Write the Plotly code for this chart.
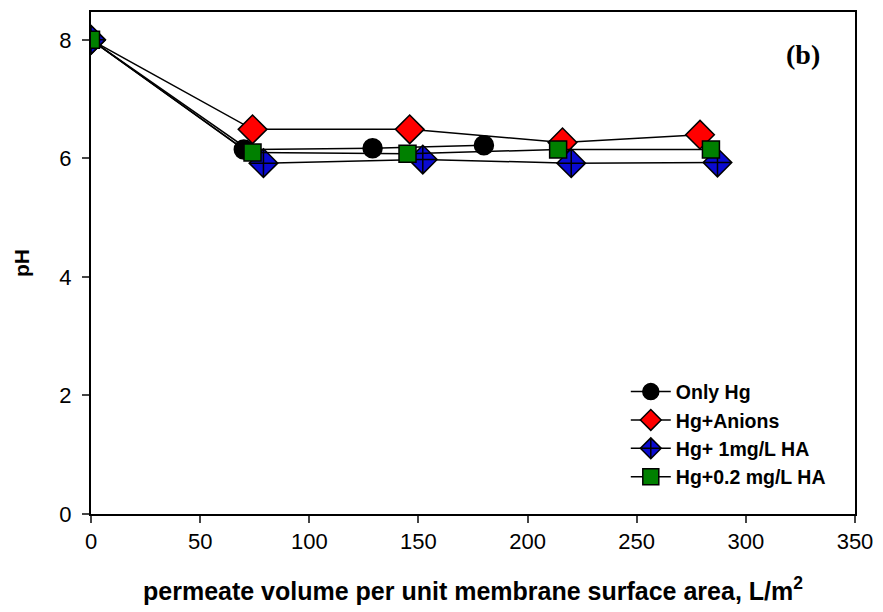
import plotly.graph_objects as go

# pH of permeate vs. permeate volume per unit membrane area
only_hg_x = [0, 70, 129, 180]
only_hg_y = [8.0, 6.15, 6.17, 6.22]

anions_x = [0, 74, 146, 216, 279]
anions_y = [8.0, 6.49, 6.49, 6.27, 6.40]

ha1_x = [0, 79, 152, 220, 287]
ha1_y = [8.0, 5.92, 5.98, 5.92, 5.93]

ha02_x = [0, 74, 145, 214, 284]
ha02_y = [8.0, 6.10, 6.08, 6.15, 6.15]

x_ticks = [0, 50, 100, 150, 200, 250, 300, 350]
y_ticks = [0, 2, 4, 6, 8]

series = [
    ("Only Hg", only_hg_x, only_hg_y, "circle", "#000000", 19),
    ("Hg+Anions", anions_x, anions_y, "diamond", "#ff0000", 22),
    ("Hg+ 1mg/L HA", ha1_x, ha1_y, "diamond-cross", "#0a0ad0", 22),
    ("Hg+0.2 mg/L HA", ha02_x, ha02_y, "square", "#008000", 17),
]

fig = go.Figure()
for name, xs, ys, sym, col, size in series:
    fig.add_trace(go.Scatter(
        x=xs, y=ys, name=name, mode="lines+markers",
        line=dict(color="black", width=1.5),
        marker=dict(symbol=sym, size=size, color=col,
                    line=dict(color="black", width=1.5)),
    ))

fig.update_layout(
    width=883, height=612,
    margin=dict(l=91, r=26, t=10, b=98),
    paper_bgcolor="white", plot_bgcolor="white",
    font=dict(family="Arial, Liberation Sans, sans-serif", color="black"),
    showlegend=True,
    legend=dict(
        x=0.70, y=0.282, xanchor="left", yanchor="top",
        bgcolor="rgba(0,0,0,0)", borderwidth=0,
        font=dict(size=19.5, family="Arial, Liberation Sans, sans-serif",
                  weight="bold"),
        tracegroupgap=0, itemwidth=40,
    ),
    xaxis=dict(
        range=[0, 350], tickvals=x_ticks, ticks="outside", ticklen=7,
        tickwidth=1.5, showline=True, linewidth=2, linecolor="black",
        mirror=True, showgrid=False, zeroline=False,
        tickfont=dict(size=22),
        title=dict(text="permeate volume per unit membrane surface area, L/m<sup>2</sup>",
                   font=dict(size=25, weight="bold"), standoff=29),
    ),
    yaxis=dict(
        range=[0, 8.47], tickvals=y_ticks, ticks="outside", ticklen=7,
        tickwidth=1.5, showline=True, linewidth=2, linecolor="black",
        mirror=True, showgrid=False, zeroline=False,
        tickfont=dict(size=22), ticklabelstandoff=6,
        title=dict(text="pH", font=dict(size=21, weight="bold"), standoff=24),
    ),
    annotations=[dict(
        text="(b)", x=0.932, y=0.915, xref="paper", yref="paper",
        showarrow=False, xanchor="center", yanchor="middle",
        font=dict(size=28, family="Times New Roman, Liberation Serif, serif",
                  weight="bold"),
    )],
)

fig.write_html("out.html")
